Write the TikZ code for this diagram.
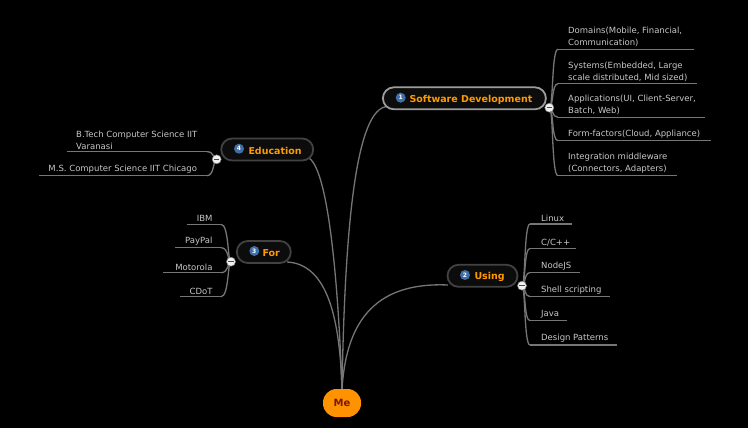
\documentclass[tikz,border=0pt]{standalone}
\usepackage{fontspec}
\setmainfont{DejaVu Sans}
\definecolor{linegray}{HTML}{767676}
\definecolor{itemgray}{HTML}{C8C8C8}
\definecolor{topicorange}{HTML}{FF9A00}
\definecolor{badgeblue}{HTML}{3F6FA6}
\definecolor{pillfill}{HTML}{0C0C0C}
\definecolor{pilldark}{HTML}{424242}
\definecolor{pilllight}{HTML}{9C9C9C}
\definecolor{meorange}{HTML}{FF9200}
\definecolor{metext}{HTML}{7A1800}
\begin{document}
\begin{tikzpicture}[x=1pt,y=-1pt,
  conn/.style={draw=linegray, line width=1.3pt},
  uline/.style={draw=linegray, line width=1.1pt},
  pill/.style={draw=pilldark, line width=1.8pt, fill=pillfill, rounded corners=11pt, minimum height=22pt, inner sep=0pt},
  badge/.style={circle, fill=badgeblue, text=white, font=\fontsize{6}{6}\selectfont\bfseries, inner sep=0pt, minimum size=10pt},
  topic/.style={text=topicorange, font=\bfseries\fontsize{9.5}{10}\selectfont, inner sep=0pt, anchor=west},
  item/.style={text=itemgray, font=\fontsize{8.5}{12}\selectfont, align=left, inner sep=0pt},
  collapse/.style={circle, fill=white!88!gray, draw=gray, line width=0.5pt, minimum size=9pt, inner sep=0pt,
    path picture={\draw[line width=1.3pt, black!70] ([xshift=-2.6pt]path picture bounding box.center) -- ([xshift=2.6pt]path picture bounding box.center);}}
]
\useasboundingbox (0,0) rectangle (748,428);
\fill[black] (0,0) rectangle (748,428);

% ---------- collapse points ----------
\coordinate (c1) at (549.3,107.7);
\coordinate (c2) at (522,285.7);
\coordinate (c3) at (231,261.7);
\coordinate (c4) at (216.7,159.3);

% ---------- main connectors ----------
\coordinate (meTop) at (342,390);
\coordinate (sdIn) at (387,106.5);
\coordinate (edOut) at (309,158);
\coordinate (forOut) at (287,262);
\coordinate (usIn) at (448,285);
\draw[conn] (meTop) .. controls (345,210) and (358,109) .. (sdIn);
\draw[conn] (edOut) .. controls (330,172) and (339,300) .. (meTop);
\draw[conn] (forOut) .. controls (328,264) and (340,320) .. (meTop);
\draw[conn] (usIn) .. controls (378,282) and (346,318) .. (meTop);

% ---------- Software Development children ----------
\foreach \n/\y/\e in {d1/49.3/694, d2/83.7/697, d3/117.3/705, d4/140.7/711, d5/175.7/677}{
  \coordinate (\n s) at (558,\y);
  \coordinate (\n e) at (\e,\y);
  \draw[conn] (c1) .. controls (553.5,107.7) and (551.5,\y) .. (\n s);
  \draw[uline] (\n s) -- (\n e);
}
\node[item, anchor=south west] (t1) at (568,47) {Domains(Mobile, Financial,\\Communication)};
\node[item, anchor=south west] (t2) at (568,81.4) {Systems(Embedded, Large\\scale distributed, Mid sized)};
\node[item, anchor=south west] (t3) at (568,115) {Applications(UI, Client-Server,\\Batch, Web)};
\node[item, anchor=south west] (t4) at (568,138.4) {Form-factors(Cloud, Appliance)};
\node[item, anchor=south west] (t5) at (568,173.4) {Integration middleware\\(Connectors, Adapters)};

% ---------- Using children ----------
\foreach \n/\y/\e in {u1/224/572, u2/248.3/576, u3/272.7/580, u4/296.7/610, u5/320.7/567, u6/345/617}{
  \coordinate (\n s) at (530,\y);
  \coordinate (\n e) at (\e,\y);
  \draw[conn] (c2) .. controls (525.5,285.7) and (524,\y) .. (\n s);
  \draw[uline] (\n s) -- (\n e);
}
\node[item, anchor=south west] (v1) at (541,221.7) {Linux};
\node[item, anchor=south west] (v2) at (541,246) {C/C++};
\node[item, anchor=south west] (v3) at (541,270.4) {NodeJS};
\node[item, anchor=south west] (v4) at (541,294.4) {Shell scripting};
\node[item, anchor=south west] (v5) at (541,318.4) {Java};
\node[item, anchor=south west] (v6) at (541,342.7) {Design Patterns};

% ---------- For children ----------
\foreach \n/\y/\s in {f1/224.3/186.7, f2/247.7/175, f3/272.7/163.3, f4/296.7/180}{
  \coordinate (\n s) at (\s,\y);
  \coordinate (\n e) at (221,\y);
  \draw[conn] (c3) .. controls (227.5,261.7) and (229,\y) .. (\n e);
  \draw[uline] (\n s) -- (\n e);
}
\node[item, anchor=south east] (g1) at (212.7,222) {IBM};
\node[item, anchor=south east] (g2) at (212.7,245.4) {PayPal};
\node[item, anchor=south east] (g3) at (212.7,270.4) {Motorola};
\node[item, anchor=south east] (g4) at (212.7,294.4) {CDoT};

% ---------- Education children ----------
\foreach \n/\y/\s in {e1/151.7/66.7, e2/175.7/39.3}{
  \coordinate (\n s) at (\s,\y);
  \coordinate (\n e) at (207,\y);
  \draw[conn] (c4) .. controls (213,159.3) and (214.5,\y) .. (\n e);
  \draw[uline] (\n s) -- (\n e);
}
\node[item, anchor=south west] (h1) at (76,149.4) {B.Tech Computer Science IIT\\Varanasi};
\node[item, anchor=south west] (h2) at (48.3,173.4) {M.S. Computer Science IIT Chicago};

% ---------- topic pills ----------
\node[pill, draw=pilllight, minimum width=163pt] (sd) at (464.4,98.3) {};
\node[badge] (b1) at (400.7,97.7) {1};
\node[topic] (sdt) at (409.3,100) {Software Development};

\node[pill, minimum width=70pt] (us) at (482.5,275.8) {};
\node[badge] (b2) at (465,275) {2};
\node[topic] (ust) at (474.3,277.3) {Using};

\node[pill, minimum width=54pt] (fo) at (263.8,252) {};
\node[badge] (b3) at (254.3,251) {3};
\node[topic] (fot) at (262.3,253.3) {For};

\node[pill, minimum width=92pt] (ed) at (267.2,149.5) {};
\node[badge] (b4) at (239,148.7) {4};
\node[topic] (edt) at (248.3,151) {Education};

% ---------- collapse buttons ----------
\node[collapse] (k1) at (c1) {};
\node[collapse] (k2) at (c2) {};
\node[collapse] (k3) at (c3) {};
\node[collapse] (k4) at (c4) {};

% ---------- root ----------
\node[fill=meorange, rounded corners=13.5pt, minimum width=38pt, minimum height=28pt, inner sep=0pt,
  text=metext, font=\bfseries\fontsize{10}{11}\selectfont] (me) at (342,403) {Me};
\end{tikzpicture}
\end{document}
